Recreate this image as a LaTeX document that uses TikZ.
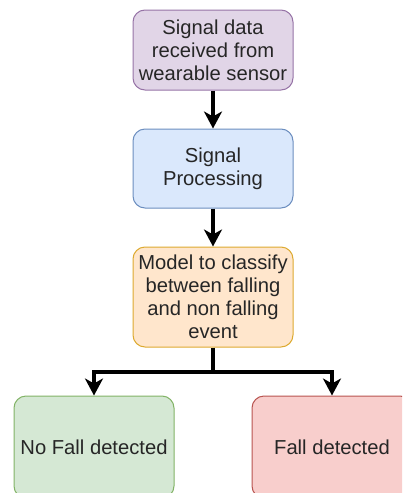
\documentclass[tikz,border=0pt]{standalone}
\usepackage{fontspec}
\setmainfont{Liberation Sans}
\usetikzlibrary{positioning,arrows.meta}

\definecolor{lilacfill}{HTML}{E1D5E7}
\definecolor{lilacline}{HTML}{9673A6}
\definecolor{skyfill}{HTML}{DAE8FC}
\definecolor{skyline}{HTML}{6C8EBF}
\definecolor{peachfill}{HTML}{FFE6CC}
\definecolor{peachline}{HTML}{DDAA30}
\definecolor{mintfill}{HTML}{D5E8D4}
\definecolor{mintline}{HTML}{82B366}
\definecolor{rosefill}{HTML}{F8CECC}
\definecolor{roseline}{HTML}{B85450}

\tikzset{
  stage/.style={draw,rounded corners=12pt,line width=1pt,minimum width=160pt,
    inner sep=0pt,align=center,text=black!85,
    font=\fontsize{20.2}{23}\selectfont},
  flow/.style={line width=3.6pt,-{Stealth[length=17pt,width=18pt,inset=5pt]}}
}

\begin{document}
\begin{tikzpicture}[x=1pt,y=-1pt]
  \clip (0,0) rectangle (402,493);
  \useasboundingbox (0,0) rectangle (402,493);

  % pipeline
  \node[stage,fill=lilacfill,draw=lilacline,minimum height=80pt] (sensor) at (213,50)
    {Signal data\\received from\\wearable sensor};
  \node[stage,fill=skyfill,draw=skyline,minimum height=79pt] (proc) at (213,168.5)
    {Signal\\Processing};
  \node[stage,fill=peachfill,draw=peachline,minimum height=100pt] (model) at (213,297)
    {Model to classify\\between falling\\and non falling\\event};

  % outcomes
  \node[stage,fill=mintfill,draw=mintline,minimum height=102pt] (nofall) at (94,447)
    {No Fall detected};
  \node[stage,fill=rosefill,draw=roseline,minimum height=102pt] (fall) at (332,447)
    {Fall detected};

  \draw[flow] (sensor) -- (proc);
  \draw[flow] (proc) -- (model);

  \coordinate (split) at (213,372);
  \draw[line width=3.6pt] (model) -- (split);
  \draw[flow] (split) -| (nofall);
  \draw[flow] (split) -| (fall);
\end{tikzpicture}
\end{document}
